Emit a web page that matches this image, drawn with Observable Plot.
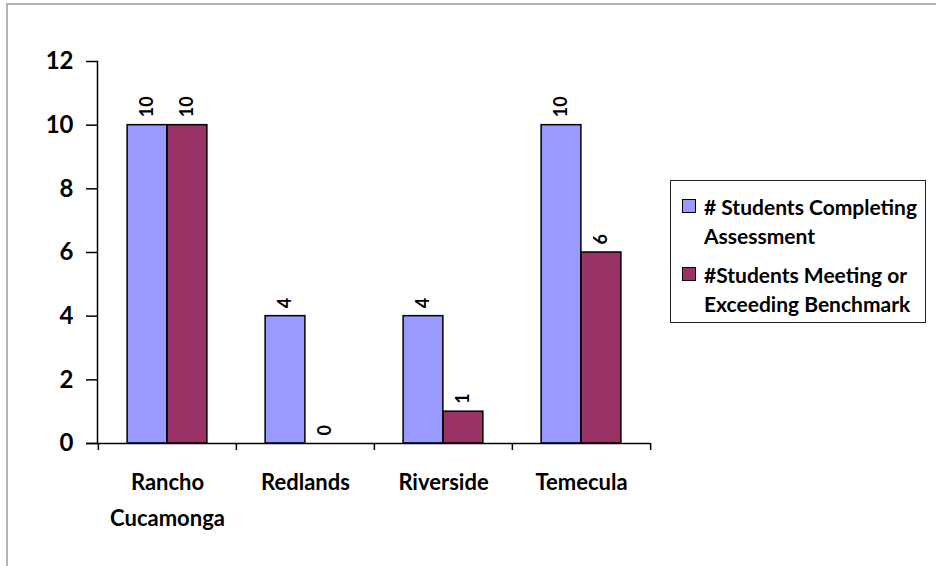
<!DOCTYPE html>
<html><head><meta charset="utf-8">
<script src="https://cdn.jsdelivr.net/npm/d3@7"></script>
<script src="https://cdn.jsdelivr.net/npm/@observablehq/plot@0.6"></script>
<style>
html,body{margin:0;padding:0;background:#fff;}
body{width:936px;height:566px;overflow:hidden;position:relative;font-family:Lato,sans-serif;}
#frame{position:absolute;left:6px;top:3px;width:1000px;height:700px;border:2px solid #b4b4b4;box-sizing:border-box;}
#chart{position:absolute;left:0;top:0;}
#legend{position:absolute;left:670px;top:180px;width:256px;height:143px;border:1.5px solid #222;box-sizing:border-box;padding:11px 0 0 11px;background:#fff;font-weight:700;font-size:21px;color:#000;white-space:nowrap;}
.item{display:flex;align-items:flex-start;}
.item + .item{margin-top:10px;}
.sw{width:12px;height:12px;border:1.5px solid #000;margin-top:7px;margin-right:8px;flex:none;}
.lab{line-height:29px;}
</style></head>
<body>
<div id="frame"></div>
<div id="chart"></div>
<div id="legend"></div>
<script>
const sites = ["Rancho Cucamonga", "Redlands", "Riverside", "Temecula"];
const siteLabels = ["Rancho\nCucamonga", "Redlands", "Riverside", "Temecula"];
const completing = [10, 4, 4, 10];
const meeting = [10, 0, 1, 6];
const seriesNames = ["# Students Completing Assessment", "#Students Meeting or Exceeding Benchmark"];
const legendLines = [["# Students Completing", "Assessment"], ["#Students Meeting or", "Exceeding Benchmark"]];
const yTicks = [0, 2, 4, 6, 8, 10, 12];
const colors = ["#9999ff", "#993366"];

const W = 936, H = 566, mL = 97, mR = 286, mT = 61, mB = 123;
const bw = (W - mL - mR) / sites.length;
const barW = 40;

const A = sites.map((s, i) => ({site: s, series: seriesNames[0], value: completing[i]}));
const B = sites.map((s, i) => ({site: s, series: seriesNames[1], value: meeting[i]}));

const chart = Plot.plot({
  width: W, height: H,
  marginLeft: mL, marginRight: mR, marginTop: mT, marginBottom: mB,
  style: {fontFamily: "Lato, sans-serif", fontWeight: "bold", color: "#000", background: "transparent"},
  x: {type: "band", domain: sites, padding: 0},
  y: {domain: [0, 12]},
  color: {domain: seriesNames, range: colors},
  marks: [
    Plot.barY(A, {x: "site", y: "value", fill: "series", stroke: "#000", strokeWidth: 1.5,
      insetLeft: bw / 2 - barW, insetRight: bw / 2}),
    Plot.barY(B, {x: "site", y: "value", fill: "series", stroke: "#000", strokeWidth: 1.5,
      insetLeft: bw / 2, insetRight: bw / 2 - barW}),
    Plot.text(A, {x: "site", y: "value", text: d => String(d.value), rotate: -90, textAnchor: "start",
      dx: -barW / 2, dy: -8, fontSize: 18, fontWeight: "bold"}),
    Plot.text(B, {x: "site", y: "value", text: d => String(d.value), rotate: -90, textAnchor: "start",
      dx: barW / 2, dy: -8, fontSize: 18, fontWeight: "bold"}),
    Plot.axisY({ticks: yTicks, tickSize: 11, tickPadding: 13, fontSize: 24, label: null, strokeWidth: 1.5}),
    Plot.axisX({tickSize: 0, tickPadding: 22, fontSize: 22, lineHeight: 1.6, label: null,
      tickFormat: d => siteLabels[sites.indexOf(d)]}),
    Plot.frame({anchor: "left", stroke: "#000", strokeWidth: 1.5}),
    Plot.ruleY([0], {insetLeft: -11, stroke: "#000", strokeWidth: 1.5}),
    Plot.ruleX(sites, {x: d => d, dx: -bw / 2, y1: 0, y2: 0, insetBottom: -7, stroke: "#000", strokeWidth: 1.5}),
    Plot.ruleX(sites.slice(-1), {x: d => d, dx: bw / 2, y1: 0, y2: 0, insetBottom: -7, stroke: "#000", strokeWidth: 1.5})
  ]
});
document.getElementById("chart").appendChild(chart);

const leg = document.getElementById("legend");
seriesNames.forEach((name, i) => {
  const item = document.createElement("div");
  item.className = "item";
  const sw = document.createElement("div");
  sw.className = "sw";
  sw.style.background = colors[i];
  const lab = document.createElement("div");
  lab.className = "lab";
  lab.innerHTML = legendLines[i].join("<br>");
  item.appendChild(sw); item.appendChild(lab);
  leg.appendChild(item);
});
</script>
</body></html>
